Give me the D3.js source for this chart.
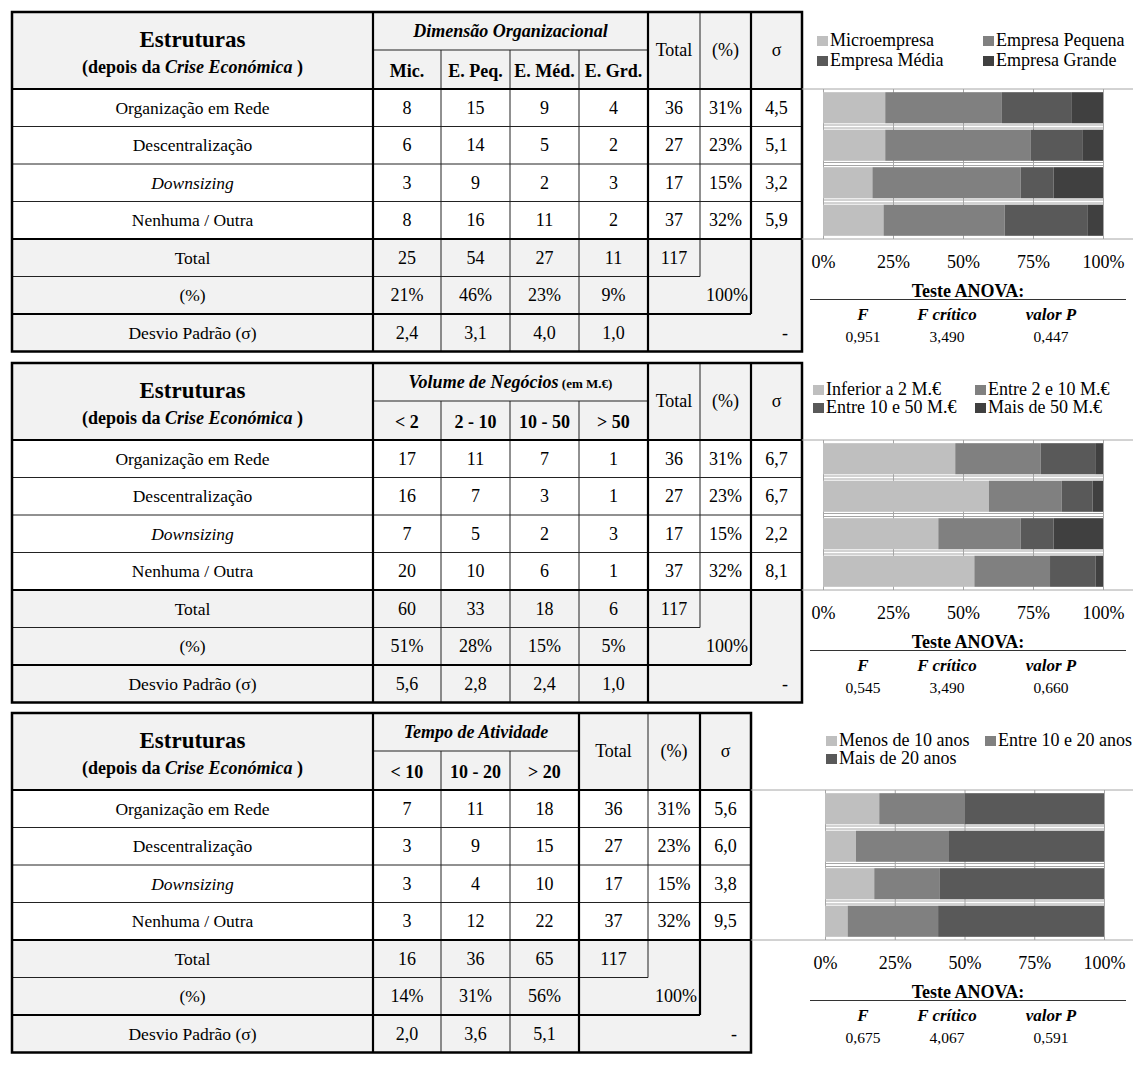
<!DOCTYPE html>
<html>
<head>
<meta charset="utf-8">
<script src="https://cdn.jsdelivr.net/npm/d3@7"></script>
<style>
  body { margin: 0; background: #fff; }
  svg text { font-family: "Liberation Serif", "Times New Roman", serif; fill: #000; }
</style>
</head>
<body>
<svg id="chart" width="1133" height="1071"></svg>
<script>
// ---- shared row categories ----
const structures = ["Organização em Rede", "Descentralização", "Downsizing", "Nenhuma / Outra"];
const italicRows = ["Downsizing"];

// ---- Dimensão Organizacional ----
const dimCols = ["Mic.", "E. Peq.", "E. Méd.", "E. Grd."];
const dimLegend = ["Microempresa", "Empresa Pequena", "Empresa Média", "Empresa Grande"];
const dimCounts = [[8, 15, 9, 4], [6, 14, 5, 2], [3, 9, 2, 3], [8, 16, 11, 2]];
const dimRowTotal = [36, 27, 17, 37];
const dimRowPct = ["31%", "23%", "15%", "32%"];
const dimRowSigma = ["4,5", "5,1", "3,2", "5,9"];
const dimColTotal = [25, 54, 27, 11];
const dimColPct = ["21%", "46%", "23%", "9%"];
const dimColSigma = ["2,4", "3,1", "4,0", "1,0"];
const dimAnova = ["0,951", "3,490", "0,447"];

// ---- Volume de Negócios ----
const volCols = ["< 2", "2 - 10", "10 - 50", "> 50"];
const volLegend = ["Inferior a 2 M.€", "Entre 2 e 10 M.€", "Entre 10 e 50 M.€", "Mais de 50 M.€"];
const volCounts = [[17, 11, 7, 1], [16, 7, 3, 1], [7, 5, 2, 3], [20, 10, 6, 1]];
const volRowTotal = [36, 27, 17, 37];
const volRowPct = ["31%", "23%", "15%", "32%"];
const volRowSigma = ["6,7", "6,7", "2,2", "8,1"];
const volColTotal = [60, 33, 18, 6];
const volColPct = ["51%", "28%", "15%", "5%"];
const volColSigma = ["5,6", "2,8", "2,4", "1,0"];
const volAnova = ["0,545", "3,490", "0,660"];

// ---- Tempo de Atividade ----
const ageCols = ["< 10", "10 - 20", "> 20"];
const ageLegend = ["Menos de 10 anos", "Entre 10 e 20 anos", "Mais de 20 anos"];
const ageCounts = [[7, 11, 18], [3, 9, 15], [3, 4, 10], [3, 12, 22]];
const ageRowTotal = [36, 27, 17, 37];
const ageRowPct = ["31%", "23%", "15%", "32%"];
const ageRowSigma = ["5,6", "6,0", "3,8", "9,5"];
const ageColTotal = [16, 36, 65];
const ageColPct = ["14%", "31%", "56%"];
const ageColSigma = ["2,0", "3,6", "5,1"];
const ageAnova = ["0,675", "4,067", "0,591"];

const grandTotal = 117;
const grandPct = "100%";
const anovaHeads = ["F", "F crítico", "valor P"];
const axisTicks = [0, 0.25, 0.5, 0.75, 1];
const greys = ["#bfbfbf", "#808080", "#595959", "#404040"];

const sections = [
  { title: "Dimensão Organizacional", unit: null, cols: dimCols, legend: dimLegend, counts: dimCounts,
    rowTotal: dimRowTotal, rowPct: dimRowPct, rowSigma: dimRowSigma,
    colTotal: dimColTotal, colPct: dimColPct, colSigma: dimColSigma, anova: dimAnova,
    top: 12, edges: [12, 373, 441, 510, 579, 648, 700, 751, 802],
    plotX: [823, 1103], legendX: [817, 983], legendY: [-43, -23] },
  { title: "Volume de Negócios", unit: "(em M.€)", cols: volCols, legend: volLegend, counts: volCounts,
    rowTotal: volRowTotal, rowPct: volRowPct, rowSigma: volRowSigma,
    colTotal: volColTotal, colPct: volColPct, colSigma: volColSigma, anova: volAnova,
    top: 363, edges: [12, 373, 441, 510, 579, 648, 700, 751, 802],
    plotX: [823, 1103], legendX: [813, 975], legendY: [-45, -27] },
  { title: "Tempo de Atividade", unit: null, cols: ageCols, legend: ageLegend, counts: ageCounts,
    rowTotal: ageRowTotal, rowPct: ageRowPct, rowSigma: ageRowSigma,
    colTotal: ageColTotal, colPct: ageColPct, colSigma: ageColSigma, anova: ageAnova,
    top: 713, edges: [12, 373, 441, 510, 579, 648, 700, 751],
    plotX: [825, 1104], legendX: [826, 985], legendY: [-44, -26] }
];

const svg = d3.select("#chart");
const HEAD = 77, ROW = 37.5;
const THIN = 1, THICK = 2.2;

function hLine(g, x1, x2, y, w, c) {
  g.append("line").attr("x1", x1).attr("x2", x2).attr("y1", y).attr("y2", y)
    .attr("stroke", c || "#000").attr("stroke-width", w);
}
function vLine(g, x, y1, y2, w, c) {
  g.append("line").attr("x1", x).attr("x2", x).attr("y1", y1).attr("y2", y2)
    .attr("stroke", c || "#000").attr("stroke-width", w);
}
function txt(g, x, y, s, opts) {
  opts = opts || {};
  return g.append("text").attr("x", x).attr("y", y)
    .attr("text-anchor", opts.anchor || "middle")
    .attr("font-size", opts.size || 18)
    .attr("font-weight", opts.bold ? "bold" : null)
    .attr("font-style", opts.italic ? "italic" : null)
    .text(s);
}

sections.forEach(sec => {
  const g = svg.append("g");
  const e = sec.edges;
  const nG = sec.cols.length;
  const L = e[0], R = e[e.length - 1];
  const top = sec.top, T = top + HEAD, B = T + 4 * ROW, bottom = B + 3 * ROW;
  const gEnd = e[1 + nG], totR = e[2 + nG], pctR = e[3 + nG], sigR = e[4 + nG];

  const rowY = d3.scaleBand().domain(structures).range([T, B]);
  const sumY = d3.scaleBand().domain(["Total", "(%)", "Desvio"]).range([B, bottom]);

  // ---- table backgrounds ----
  g.append("rect").attr("x", L).attr("y", top).attr("width", R - L).attr("height", HEAD).attr("fill", "#f2f2f2");
  g.append("rect").attr("x", L).attr("y", B).attr("width", R - L).attr("height", bottom - B).attr("fill", "#f2f2f2");

  // ---- header text ----
  const cx0 = (e[0] + e[1]) / 2;
  txt(g, cx0, top + 35, "Estruturas", { bold: true, size: 23 });
  const sub = txt(g, cx0, top + 61, "", { bold: true, size: 18 });
  sub.append("tspan").text("(depois da ");
  sub.append("tspan").attr("font-style", "italic").text("Crise Económica");
  sub.append("tspan").text(" )");

  const gt = txt(g, (e[1] + gEnd) / 2, top + 25, "", { bold: true, size: 18 });
  gt.append("tspan").attr("font-style", "italic").text(sec.title);
  if (sec.unit) gt.append("tspan").attr("font-size", 13).text("  " + sec.unit);

  sec.cols.forEach((c, i) => txt(g, (e[1 + i] + e[2 + i]) / 2, top + 65, c, { bold: true, size: 18 }));
  txt(g, (gEnd + totR) / 2, top + 44, "Total", { size: 18 });
  txt(g, (totR + pctR) / 2, top + 44, "(%)", { size: 18 });
  txt(g, (pctR + sigR) / 2, top + 44, "σ", { size: 18 });

  // ---- data rows ----
  structures.forEach((s, r) => {
    const cy = rowY(s) + ROW / 2 + 6;
    txt(g, cx0, cy, s, { size: 17.5, italic: italicRows.includes(s) });
    sec.counts[r].forEach((v, i) => txt(g, (e[1 + i] + e[2 + i]) / 2, cy, v));
    txt(g, (gEnd + totR) / 2, cy, sec.rowTotal[r]);
    txt(g, (totR + pctR) / 2, cy, sec.rowPct[r]);
    txt(g, (pctR + sigR) / 2, cy, sec.rowSigma[r]);
  });

  // ---- summary rows ----
  const yTot = sumY("Total") + ROW / 2 + 6, yPct = sumY("(%)") + ROW / 2 + 6, yDev = sumY("Desvio") + ROW / 2 + 6;
  txt(g, cx0, yTot, "Total", { size: 17.5 });
  txt(g, cx0, yPct, "(%)", { size: 17.5 });
  txt(g, cx0, yDev, "Desvio Padrão (σ)", { size: 17.5 });
  sec.colTotal.forEach((v, i) => txt(g, (e[1 + i] + e[2 + i]) / 2, yTot, v));
  sec.colPct.forEach((v, i) => txt(g, (e[1 + i] + e[2 + i]) / 2, yPct, v));
  sec.colSigma.forEach((v, i) => txt(g, (e[1 + i] + e[2 + i]) / 2, yDev, v));
  txt(g, (gEnd + totR) / 2, yTot, grandTotal);
  txt(g, pctR - 3, yPct, grandPct, { anchor: "end" });
  txt(g, sigR - 14, yDev, "-", { anchor: "end" });

  // ---- grid lines ----
  // thin row separators inside the data block
  [1, 2, 3].forEach(k => hLine(g, L, R, T + k * ROW, THIN, "#222"));
  hLine(g, L, totR, B + ROW, THIN, "#222");
  hLine(g, e[1], gEnd, top + 38, THIN, "#222");
  // thin column separators inside the groups
  for (let i = 2; i < 1 + nG; i++) vLine(g, e[i], top + 38, bottom, THIN, "#222");
  vLine(g, totR, top, B + ROW, THIN, "#222");
  // thick structure
  hLine(g, L, R, T, THICK);
  hLine(g, L, R, B, THICK);
  hLine(g, L, pctR, B + 2 * ROW, THICK);
  vLine(g, e[1], top, bottom, THICK);
  vLine(g, gEnd, top, bottom, THICK);
  vLine(g, pctR, top, B + 2 * ROW, THICK);
  // outer frame
  g.append("rect").attr("x", L).attr("y", top).attr("width", R - L).attr("height", bottom - top)
    .attr("fill", "none").attr("stroke", "#000").attr("stroke-width", 2.5);

  // ---- stacked 100% bar chart ----
  const x = d3.scaleLinear().domain([0, 1]).range(sec.plotX);
  const barY = d3.scaleBand().domain(structures).range([T, B]).paddingInner(0.17).paddingOuter(0.085);
  const keys = sec.legend;
  const rows = structures.map((s, r) => {
    const o = { name: s };
    keys.forEach((k, i) => o[k] = sec.counts[r][i]);
    return o;
  });
  const series = d3.stack().keys(keys).offset(d3.stackOffsetExpand)(rows);
  const color = d3.scaleOrdinal().domain(keys).range(greys);

  const cg = svg.append("g");
  // frame lines of the plot area
  hLine(cg, R, 1133, T, 1, "#a6a6a6");
  hLine(cg, R, 1133, B, 1, "#a6a6a6");
  // vertical gridlines with percent tick labels
  const axis = d3.axisBottom(x).tickValues(axisTicks).tickFormat(d3.format(".0%")).tickSize(-(B - T)).tickPadding(0);
  const ax = cg.append("g").attr("transform", `translate(0,${B})`).call(axis);
  ax.select(".domain").remove();
  ax.selectAll(".tick line").attr("stroke", "#a6a6a6");
  ax.selectAll(".tick text").attr("dy", null).attr("y", 29)
    .attr("font-size", 18).attr("font-family", null).attr("fill", "#000");
  // double rule between bars
  [1, 2, 3].forEach(k => {
    const yy = T + k * ROW;
    hLine(cg, sec.plotX[0], sec.plotX[1], yy - 1.5, 1, "#a6a6a6");
    hLine(cg, sec.plotX[0], sec.plotX[1], yy + 1.5, 1, "#a6a6a6");
  });
  cg.append("g").selectAll("g").data(series).join("g")
    .attr("fill", d => color(d.key))
    .selectAll("rect").data(d => d).join("rect")
    .attr("x", d => x(d[0]))
    .attr("width", d => x(d[1]) - x(d[0]))
    .attr("y", d => barY(d.data.name))
    .attr("height", barY.bandwidth());

  // legend
  keys.forEach((k, i) => {
    const lx = sec.legendX[i % 2], ly = T + sec.legendY[Math.floor(i / 2)];
    cg.append("rect").attr("x", lx).attr("y", ly - 10).attr("width", 11).attr("height", 10).attr("fill", color(k));
    txt(cg, lx + 13, ly, k, { anchor: "start", size: 18 }).attr("fill", "#111");
  });

  // ANOVA summary
  const anX = [863, 947, 1051];
  txt(cg, 968, B + 58, "Teste ANOVA:", { bold: true, size: 18 });
  hLine(cg, 810, 1126, B + 60.5, 1.2, "#333");
  anovaHeads.forEach((h, i) => txt(cg, anX[i], B + 81, h, { bold: true, italic: true, size: 17 }));
  sec.anova.forEach((v, i) => txt(cg, anX[i], B + 103, v, { size: 15.5 }));
});
</script>
</body>
</html>
